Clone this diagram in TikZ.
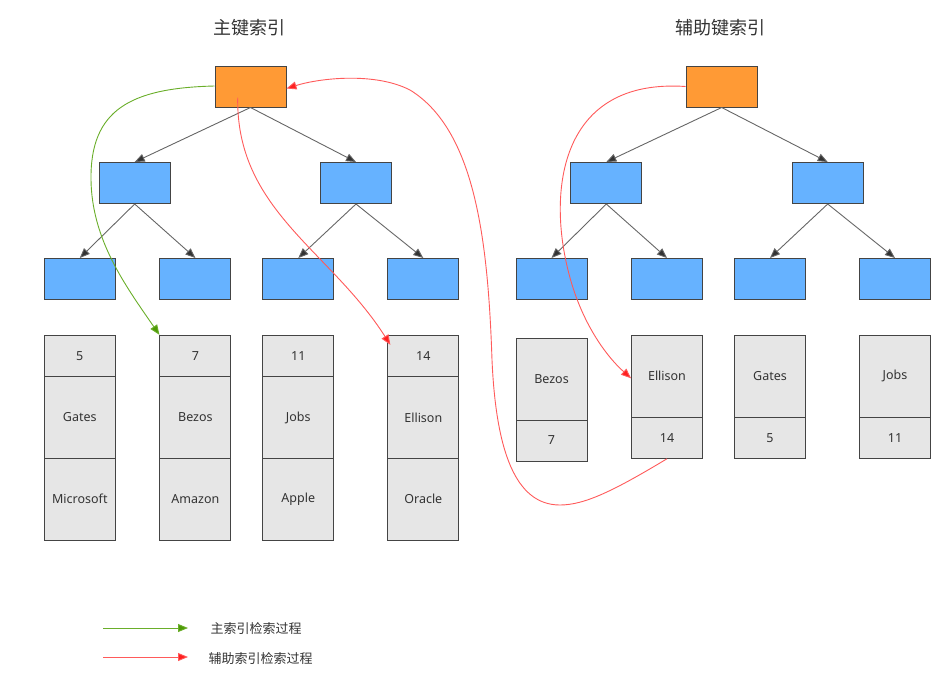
\documentclass[tikz,border=0pt]{standalone}
\usepackage{fontspec}
\setmainfont{Noto Sans}
\newfontfamily\cjk{Noto Sans CJK SC}
\usetikzlibrary{arrows.meta}
\definecolor{orng}{HTML}{FF9A35}
\definecolor{blu}{HTML}{66B2FF}
\definecolor{cellg}{HTML}{E6E6E6}
\definecolor{edg}{HTML}{444444}
\definecolor{txt}{HTML}{333333}
\definecolor{grn}{HTML}{6AAE2A}
\definecolor{grntip}{HTML}{4E9A06}
\definecolor{rd}{HTML}{FF5A5A}
\definecolor{rdtip}{HTML}{FF2020}
\tikzset{
  box/.style={draw=edg, line width=1pt, minimum width=71pt, minimum height=41pt, inner sep=0pt},
  rootbox/.style={box, fill=orng},
  bluebox/.style={box, fill=blu},
  cell/.style={draw=edg, line width=0.9pt, fill=cellg, minimum width=71pt, inner sep=0pt, font=\fontsize{12.5}{14}\selectfont, text=txt},
  treeedge/.style={draw=black!60, line width=0.9pt, -{Triangle[length=10pt,width=8pt,fill=black!80]}},
  gpath/.style={draw=grn, line width=0.9pt, -{Triangle[length=10pt,width=8pt,fill=grntip]}},
  rpath/.style={draw=rd, line width=0.9pt, -{Triangle[length=10pt,width=8pt,fill=rdtip]}},
  title/.style={font=\cjk\fontsize{18}{20}\selectfont, text=txt},
  legend/.style={font=\cjk\fontsize{13}{15}\selectfont, text=txt, anchor=west}
}
\begin{document}
\begin{tikzpicture}[x=1pt,y=-1pt]
\useasboundingbox (0,0) rectangle (939,681);
% titles
\node[title] (t1) at (249,27.5) {主键索引};
\node[title] (t2) at (720.5,27.5) {辅助键索引};
% left tree
\node[rootbox] (lr) at (250.5,86.5) {};
\node[bluebox] (la) at (134.7,183) {};
\node[bluebox] (lb) at (356,183) {};
\node[bluebox] (l1) at (79.8,279) {};
\node[bluebox] (l2) at (195.4,279) {};
\node[bluebox] (l3) at (298.3,279) {};
\node[bluebox] (l4) at (423.3,279) {};
% right tree
\node[rootbox] (rr) at (721.7,86.5) {};
\node[bluebox] (ra) at (606.3,183) {};
\node[bluebox] (rb) at (827.7,183) {};
\node[bluebox] (r1) at (551.5,279) {};
\node[bluebox] (r2) at (667,279) {};
\node[bluebox] (r3) at (770,279) {};
\node[bluebox] (r4) at (895,279) {};
% tree edges
\draw[treeedge] (lr.south) -- (la.north);
\draw[treeedge] (lr.south) -- (lb.north);
\draw[treeedge] (la.south) -- (l1.north);
\draw[treeedge] (la.south) -- (l2.north);
\draw[treeedge] (lb.south) -- (l3.north);
\draw[treeedge] (lb.south) -- (l4.north);
\draw[treeedge] (rr.south) -- (ra.north);
\draw[treeedge] (rr.south) -- (rb.north);
\draw[treeedge] (ra.south) -- (r1.north);
\draw[treeedge] (ra.south) -- (r2.north);
\draw[treeedge] (rb.south) -- (r3.north);
\draw[treeedge] (rb.south) -- (r4.north);
% left records
\foreach \n/\x/\a/\b/\c in {p1/79.8/5/Gates/Microsoft, p2/195.4/7/Bezos/Amazon, p3/298.3/11/Jobs/Apple, p4/423.3/14/Ellison/Oracle}{
  \node[cell, minimum height=41.4pt] (\n a) at (\x,356) {\a};
  \node[cell, minimum height=81.6pt] (\n b) at (\x,417.5) {\b};
  \node[cell, minimum height=81.7pt] (\n c) at (\x,499.1) {\c};
}
% right records
\node[cell, minimum height=81.7pt] (s1a) at (551.5,379.2) {Bezos};
\node[cell, minimum height=41pt] (s1b) at (551.5,440.5) {7};
\foreach \n/\x/\a/\b in {s2/667/Ellison/14, s3/770/Gates/5, s4/895/Jobs/11}{
  \node[cell, minimum height=82pt] (\n a) at (\x,376.3) {\a};
  \node[cell, minimum height=41pt] (\n b) at (\x,437.8) {\b};
}
% search paths
\coordinate (g0) at ([yshift=0.5pt]lr.west);
\draw[gpath] (g0) .. controls (130,88) and (90,110) .. (91,180) .. controls (92,240) and (125,285) .. (p2a.north west);
\coordinate (r0) at ([xshift=-12.8pt,yshift=10pt]lr.south);
\draw[rpath] (r0) .. controls (236,210) and (330,250) .. ([xshift=3pt,yshift=-10pt]p4a.north west);
\coordinate (q0) at (rr.west);
\draw[rpath] (q0) .. controls (560,78) and (548,190) .. (568,270) .. controls (580,320) and (605,355) .. ([yshift=-2pt]s2a.west);
\draw[rpath] (s2b.south) .. controls (615,490) and (585,505) .. (560,505) .. controls (515,505) and (496,450) .. (492,360) .. controls (488,240) and (475,130) .. (410,90) .. controls (375,72) and (320,78) .. ([yshift=-2pt]lr.east);
% legend
\coordinate (lg1) at (103,628);
\coordinate (lg2) at (188,628);
\coordinate (lr1) at (103,657);
\coordinate (lr2) at (188,657);
\draw[gpath] (lg1) -- (lg2);
\draw[rpath] (lr1) -- (lr2);
\node[legend] (leg1) at (207,629) {主索引检索过程};
\node[legend] (leg2) at (205,659) {辅助索引检索过程};
\end{tikzpicture}
\end{document}
